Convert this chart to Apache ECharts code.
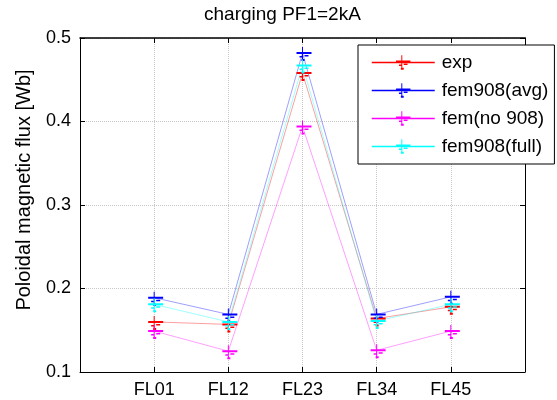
<!DOCTYPE html>
<html>
<head>
<meta charset="utf-8">
<script src="https://cdn.jsdelivr.net/npm/echarts@6/dist/echarts.min.js"></script>
<style>
html,body{margin:0;padding:0;background:#fff;}
#chart{width:557px;height:400px;}
</style>
</head>
<body>
<div id="chart"></div>
<script>
const categories = ['FL01', 'FL12', 'FL23', 'FL34', 'FL45'];
const expValues = [0.160, 0.157, 0.458, 0.164, 0.178];
const femAvgValues = [0.189, 0.169, 0.482, 0.169, 0.190];
const femNo908Values = [0.149, 0.125, 0.394, 0.126, 0.149];
const femFullValues = [0.181, 0.160, 0.467, 0.161, 0.181];
const seriesNames = ['exp', 'fem908(avg)', 'fem(no 908)', 'fem908(full)'];
const seriesColors = ['#ff0000', '#0000ff', '#ff00ff', '#00ffff'];
const yTicks = [0.1, 0.2, 0.3, 0.4, 0.5];

const FONT = 'Liberation Sans, Arial, Helvetica, sans-serif';
const axisCats = [''].concat(categories, ['']);
const markerPath = 'path://M-6,-1H9V1H-6Z M-0.5,-6H0.5V6H-0.5Z M-3,3H0V4.5H-3Z M2,2H6V3.5H2Z M-1,6H2V8H-1Z';

const allValues = [expValues, femAvgValues, femNo908Values, femFullValues];

const chart = echarts.init(document.getElementById('chart'), null, {renderer: 'canvas'});

const series = allValues.map((vals, i) => ({
  name: seriesNames[i],
  type: 'line',
  xAxisIndex: 0,
  yAxisIndex: 0,
  data: categories.map((c, j) => [c, vals[j]]),
  symbol: markerPath,
  symbolSize: [15, 14],
  symbolOffset: [1.5, 1],
  showSymbol: true,
  color: seriesColors[i],
  itemStyle: {color: seriesColors[i]},
  lineStyle: {color: seriesColors[i], width: 1, opacity: 0.38},
  emphasis: {disabled: true},
  animation: false
}));

const option = {
  animation: false,
  backgroundColor: '#ffffff',
  title: {
    text: 'charging PF1=2kA',
    left: 204,
    top: 5,
    padding: 0,
    textStyle: {fontFamily: FONT, fontSize: 19, fontWeight: 'normal', color: '#000'}
  },
  grid: {left: 80, right: 32, top: 38, bottom: 28, containLabel: false},
  legend: {
    orient: 'vertical',
    left: 358,
    top: 45,
    padding: [8, 6, 8, 13],
    itemGap: 9,
    itemWidth: 63,
    itemHeight: 18,
    backgroundColor: '#fff',
    borderColor: '#000',
    borderWidth: 1,
    borderRadius: 0,
    data: seriesNames,
    lineStyle: {opacity: 1, width: 1.5},
    textStyle: {fontFamily: FONT, fontSize: 19, color: '#000', padding: [0, 0, 0, 2]}
  },
  xAxis: [
    {
      type: 'category',
      data: axisCats,
      boundaryGap: false,
      position: 'bottom',
      axisLine: {show: true, onZero: false, lineStyle: {color: '#000', width: 1}},
      axisTick: {show: true, inside: true, length: 5, interval: 0, lineStyle: {color: '#000'}},
      axisLabel: {interval: 0, margin: 9, fontFamily: FONT, fontSize: 18, color: '#000'},
      splitLine: {show: true, interval: 0, lineStyle: {color: '#c8c8c8', type: [1, 1], width: 1}}
    },
    {
      type: 'category',
      data: axisCats,
      boundaryGap: false,
      position: 'top',
      axisLine: {show: true, onZero: false, lineStyle: {color: '#000', width: 1.5}},
      axisTick: {show: true, inside: true, length: 5, interval: 0, lineStyle: {color: '#000'}},
      axisLabel: {show: false},
      splitLine: {show: false}
    }
  ],
  yAxis: [
    {
      type: 'value',
      min: yTicks[0],
      max: yTicks[yTicks.length - 1],
      interval: 0.1,
      position: 'left',
      axisLine: {show: true, onZero: false, lineStyle: {color: '#000', width: 1}},
      axisTick: {show: true, inside: true, length: 5, lineStyle: {color: '#000'}},
      axisLabel: {margin: 9, fontFamily: FONT, fontSize: 18, color: '#000', formatter: v => v.toFixed(1)},
      splitLine: {show: true, lineStyle: {color: '#c8c8c8', type: [1, 1], width: 1}}
    },
    {
      type: 'value',
      min: yTicks[0],
      max: yTicks[yTicks.length - 1],
      interval: 0.1,
      position: 'right',
      axisLine: {show: true, onZero: false, lineStyle: {color: '#000', width: 1}},
      axisTick: {show: true, inside: true, length: 5, lineStyle: {color: '#000'}},
      axisLabel: {show: false},
      splitLine: {show: false}
    }
  ],
  graphic: [
    {
      type: 'text',
      x: 24,
      y: 190,
      rotation: Math.PI / 2,
      style: {
        text: 'Poloidal magnetic flux [Wb]',
        fontFamily: FONT,
        fontSize: 20,
        fill: '#000',
        align: 'center',
        verticalAlign: 'middle'
      }
    }
  ],
  series: series
};

chart.setOption(option);
</script>
</body>
</html>
